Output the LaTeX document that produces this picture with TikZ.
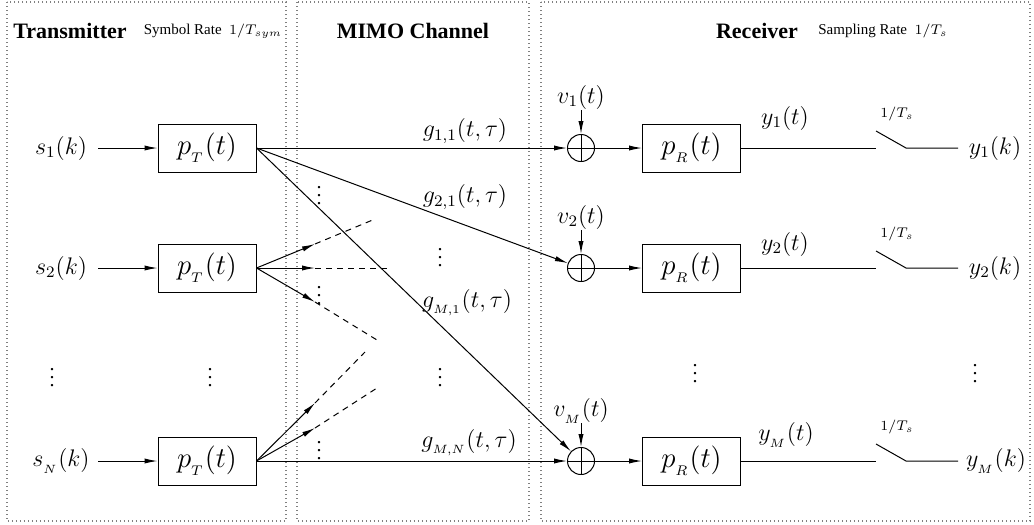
\documentclass[tikz,border=0pt]{standalone}
\usepackage{fontspec}
\setmainfont{Liberation Serif}
\usetikzlibrary{arrows.meta}
\begin{document}
\begin{tikzpicture}[x=0.5pt,y=-0.5pt, line width=0.5pt,
  blk/.style={draw, minimum width=49pt, minimum height=24pt, inner sep=0pt, font=\fontsize{13.5}{15}\selectfont},
  adder/.style={draw, circle, minimum size=13.5pt, inner sep=0pt},
  lbl/.style={font=\fontsize{11.5}{13}\selectfont, inner sep=0pt},
  small/.style={font=\fontsize{7}{8}\selectfont, inner sep=0pt},
  hdr/.style={font=\fontsize{11}{13}\selectfont\bfseries, inner sep=0pt},
  arr/.style={-{Latex[length=6.5pt,width=2.6pt]}},
  frame/.style={draw=gray, dash pattern=on 0.6pt off 1.4pt, line width=0.6pt},
  dsh/.style={dash pattern=on 3pt off 2.5pt},
  dts/.style={font=\fontsize{10}{12}\selectfont, inner sep=0pt}]
\useasboundingbox (0,0) rectangle (1034,525);
% frames
\draw[frame] (7,2) rectangle (286,521);
\draw[frame] (297,2) rectangle (529,521);
\draw[frame] (541,2) rectangle (1030,521);
% headers
\node[hdr] (htx) at (70,31) {Transmitter};
\node[small, font=\fontsize{7.5}{9}\selectfont] (hsr) at (213,31) {Symbol Rate~~$1/T_{sym}$};
\node[hdr] (hch) at (413,31) {MIMO Channel};
\node[hdr] (hrx) at (757,31) {Receiver};
\node[small, font=\fontsize{7.5}{9}\selectfont] (hsa) at (883,31) {Sampling Rate~~$1/T_s$};
% transmitter
\node[lbl] (s1) at (61,148) {$s_1(k)$};
\node[lbl] (s2) at (61,268) {$s_2(k)$};
\node[lbl] (sN) at (61,461) {$s_{_N}(k)$};
\node[blk] (t1) at (207,148) {$p_{_T}(t)$};
\node[blk] (t2) at (207,268) {$p_{_T}(t)$};
\node[blk] (tN) at (207,461) {$p_{_T}(t)$};
\coordinate (i1) at (98,148);
\coordinate (i2) at (98,268);
\coordinate (iN) at (98,461);
\draw[arr] (i1) -- (t1);
\draw[arr] (i2) -- (t2);
\draw[arr] (iN) -- (tN);
\node[dts] (ld1) at (52,372) {$\vdots$};
\node[dts] (ld2) at (210,372) {$\vdots$};
% adders
\node[adder] (a1) at (581,148) {};
\node[adder] (a2) at (581,268) {};
\node[adder] (aM) at (581,461) {};
\foreach \a in {a1,a2,aM}{\draw (\a.north) -- (\a.south) (\a.west) -- (\a.east);}
% channel lines
\draw[arr] (t1.east) -- (a1);
\draw[arr] (t1.east) -- (a2);
\draw[arr] (t1.east) -- (aM);
\draw[arr] (tN.east) -- (aM);
\node[lbl] (g11) at (465,131) {$g_{1,1}(t,\tau)$};
\node[lbl] (g21) at (465,197) {$g_{2,1}(t,\tau)$};
\node[lbl] (gM1) at (467,303) {$g_{_{M,1}}(t,\tau)$};
\node[lbl] (gMN) at (469,443) {$g_{_{M,N}}(t,\tau)$};
% dashed stubs
\coordinate (d1a) at (315,244);  \coordinate (d1b) at (375,219);
\coordinate (d2a) at (315,268);  \coordinate (d2b) at (390,268);
\coordinate (d3a) at (315,302);  \coordinate (d3b) at (377,340);
\coordinate (d4a) at (315,403);  \coordinate (d4b) at (365,352);
\coordinate (d5a) at (315,428);  \coordinate (d5b) at (377,388);
\draw[arr] (t2.east) -- (d1a); \draw[dsh] (d1a) -- (d1b);
\draw[arr] (t2.east) -- (d2a); \draw[dsh] (d2a) -- (d2b);
\draw[arr] (t2.east) -- (d3a); \draw[dsh] (d3a) -- (d3b);
\draw[arr] (tN.east) -- (d4a); \draw[dsh] (d4a) -- (d4b);
\draw[arr] (tN.east) -- (d5a); \draw[dsh] (d5a) -- (d5b);
\node[dts] (cd1) at (319,190) {$\vdots$};
\node[dts] (cd2) at (319,290) {$\vdots$};
\node[dts] (cd3) at (440,252) {$\vdots$};
\node[dts] (cd4) at (440,372) {$\vdots$};
\node[dts] (cd5) at (319,445) {$\vdots$};
% noise
\node[lbl] (v1) at (581,97) {$v_1(t)$};
\node[lbl] (v2) at (581,217) {$v_2(t)$};
\node[lbl] (vM) at (581,411) {$v_{_M}(t)$};
\coordinate (n1) at (581,110);
\coordinate (n2) at (581,230);
\coordinate (nM) at (581,423);
\draw[arr] (n1) -- (a1);
\draw[arr] (n2) -- (a2);
\draw[arr] (nM) -- (aM);
% receive filters
\node[blk] (r1) at (691.5,148) {$p_{_R}(t)$};
\node[blk] (r2) at (691.5,268) {$p_{_R}(t)$};
\node[blk] (rM) at (691.5,461) {$p_{_R}(t)$};
\draw[arr] (a1) -- (r1);
\draw[arr] (a2) -- (r2);
\draw[arr] (aM) -- (rM);
% switches
\foreach \r/\y in {1/148,2/268,M/461}{
  \coordinate (sw\r a) at (876,\y);
  \coordinate (sw\r u) at (876,\y-17);
  \coordinate (sw\r b) at (906,\y);
  \coordinate (sw\r c) at (958,\y);
  \node[small] (ts\r) at (897,\y-34) {$1/T_s$};
}
\draw (r1.east) -- (sw1a); \draw (sw1u) -- (sw1b) -- (sw1c);
\draw (r2.east) -- (sw2a); \draw (sw2u) -- (sw2b) -- (sw2c);
\draw (rM.east) -- (swMa); \draw (swMu) -- (swMb) -- (swMc);
\node[lbl] (yt1) at (785,118) {$y_1(t)$};
\node[lbl] (yt2) at (785,244) {$y_2(t)$};
\node[lbl] (ytM) at (786,435) {$y_{_M}(t)$};
\node[lbl] (yk1) at (995,148) {$y_1(k)$};
\node[lbl] (yk2) at (995,268) {$y_2(k)$};
\node[lbl] (ykM) at (996,461) {$y_{_M}(k)$};
\node[dts] (rd1) at (695,368) {$\vdots$};
\node[dts] (rd2) at (975,368) {$\vdots$};
\end{tikzpicture}
\end{document}
